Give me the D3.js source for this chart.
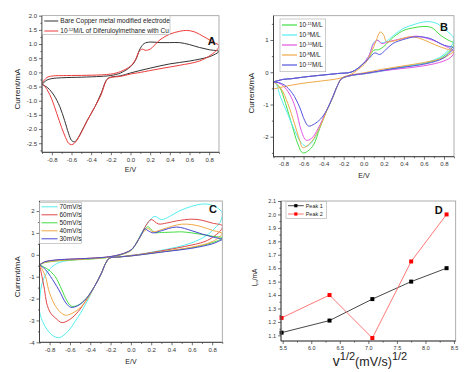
<!DOCTYPE html>
<html>
<head>
<meta charset="utf-8">
<script src="https://cdn.jsdelivr.net/npm/d3@7"></script>
<style>
body { margin: 0; background: #fff; }
svg { font-family: "Liberation Sans", Arial, sans-serif; }
.tick text { fill: #333; }
.tick line { stroke: #333; }
</style>
</head>
<body>
<svg id="chart" width="468" height="372"></svg>
<script>
// ---- tick values ----
var potTicks = [-0.8, -0.6, -0.4, -0.2, 0, 0.2, 0.4, 0.6, 0.8];
var aCurTicks = [2.0, 1.5, 1.0, 0.5, 0, -0.5, -1.0, -1.5, -2.0, -2.5];
var bCurTicks = [1, 0, -1, -2];
var cCurTicks = [2, 1, 0, -1, -2, -3, -4];
var rateTicks = [5.5, 6.0, 6.5, 7.0, 7.5, 8.0, 8.5];
var peakTicks = [1.1, 1.2, 1.3, 1.4, 1.5, 1.6, 1.7, 1.8, 1.9, 2.0, 2.1];

// ---- panel A: [E/V, I/mA] ----
var bareCu = [[-0.9,-0.42],[-0.85,-0.27],[-0.8,-0.22],[-0.7,-0.19],[-0.5,-0.17],[-0.3,-0.14],[-0.2,-0.11],[-0.1,-0.02],
  [0,0.2],[0.05,0.42],[0.1,0.85],[0.14,1.02],[0.2,1.07],[0.3,1.05],[0.4,1.05],[0.5,1.05],[0.6,0.98],[0.7,0.88],[0.8,0.8],[0.9,0.74],
  [0.88,0.68],[0.8,0.55],[0.6,0.4],[0.4,0.3],[0.2,0.15],[0,-0.02],[-0.1,-0.12],[-0.2,-0.17],[-0.24,-0.25],[-0.3,-0.75],
  [-0.36,-1.2],[-0.44,-1.7],[-0.5,-2.1],[-0.55,-2.4],[-0.57,-2.45],[-0.6,-2.4],[-0.63,-2.15],[-0.67,-1.7],[-0.72,-1.2],
  [-0.78,-0.8],[-0.84,-0.55],[-0.9,-0.42]];
var dfmCu = [[-0.9,-0.38],[-0.85,-0.18],[-0.8,-0.13],[-0.6,-0.11],[-0.4,-0.1],[-0.2,-0.06],[-0.1,0.03],[0,0.22],[0.05,0.45],
  [0.09,0.75],[0.12,0.82],[0.15,0.78],[0.2,0.82],[0.3,1.15],[0.4,1.35],[0.5,1.45],[0.57,1.48],[0.65,1.43],[0.75,1.25],[0.85,1.05],[0.9,0.95],
  [0.88,0.8],[0.82,0.62],[0.7,0.4],[0.5,0.25],[0.3,0.13],[0.1,0],[0,-0.06],[-0.1,-0.14],[-0.22,-0.2],[-0.25,-0.32],[-0.3,-0.8],
  [-0.36,-1.2],[-0.44,-1.7],[-0.52,-2.25],[-0.57,-2.5],[-0.6,-2.55],[-0.63,-2.5],[-0.66,-2.3],[-0.7,-1.95],[-0.75,-1.45],
  [-0.8,-0.95],[-0.85,-0.6],[-0.9,-0.38]];

// ---- panel B ----
var b11 = [[-0.9,-0.3],[-0.8,-0.22],[-0.72,-0.2],[-0.6,-0.15],[-0.42,-0.09],[-0.26,-0.04],[-0.12,0.01],[-0.02,0.22],[0.05,0.45],
  [0.1,0.68],[0.15,0.7],[0.2,0.8],[0.3,1.1],[0.4,1.3],[0.5,1.38],[0.6,1.42],[0.68,1.38],[0.76,1.16],[0.84,1.0],[0.9,0.9],
  [0.88,0.75],[0.8,0.5],[0.7,0.35],[0.5,0.22],[0.3,0.12],[0.1,0],[0,-0.05],[-0.12,-0.1],[-0.22,-0.2],[-0.26,-0.4],[-0.31,-0.8],
  [-0.37,-1.2],[-0.44,-1.75],[-0.5,-2.25],[-0.56,-2.45],[-0.61,-2.5],[-0.66,-2.2],[-0.71,-1.7],[-0.78,-0.97],[-0.84,-0.46],[-0.9,-0.3]];
var b9 = [[-0.9,-0.3],[-0.8,-0.22],[-0.72,-0.2],[-0.6,-0.15],[-0.42,-0.09],[-0.26,-0.04],[-0.12,0.01],[-0.02,0.22],[0.05,0.5],
  [0.1,0.92],[0.14,0.99],[0.17,0.91],[0.22,0.95],[0.3,1.15],[0.39,1.35],[0.5,1.48],[0.63,1.57],[0.73,1.51],[0.8,1.35],[0.86,1.2],[0.9,1.05],
  [0.88,0.85],[0.8,0.55],[0.7,0.38],[0.5,0.22],[0.3,0.1],[0.1,-0.01],[0,-0.05],[-0.12,-0.1],[-0.22,-0.2],[-0.26,-0.4],[-0.31,-0.78],
  [-0.37,-1.18],[-0.44,-1.7],[-0.5,-2.1],[-0.57,-2.3],[-0.62,-2.2],[-0.69,-1.8],[-0.76,-1.28],[-0.83,-0.77],[-0.875,-0.35],[-0.9,-0.3]];
var b10 = [[-0.9,-0.3],[-0.8,-0.22],[-0.72,-0.2],[-0.6,-0.15],[-0.42,-0.09],[-0.26,-0.04],[-0.12,0.01],[-0.02,0.22],[0.05,0.5],
  [0.1,0.9],[0.14,0.99],[0.18,0.89],[0.25,0.95],[0.39,1.05],[0.52,1.12],[0.6,1.08],[0.73,0.94],[0.82,0.8],[0.9,0.65],
  [0.88,0.5],[0.8,0.35],[0.6,0.2],[0.4,0.12],[0.2,0.05],[0,-0.05],[-0.12,-0.1],[-0.22,-0.2],[-0.26,-0.4],[-0.31,-0.78],
  [-0.37,-1.18],[-0.456,-1.75],[-0.52,-2.05],[-0.574,-2.11],[-0.624,-1.8],[-0.674,-1.18],[-0.724,-0.77],[-0.79,-0.46],[-0.85,-0.33],[-0.9,-0.3]];
var b8 = [[-0.9,-0.52],[-0.8,-0.45],[-0.72,-0.4],[-0.6,-0.34],[-0.42,-0.27],[-0.26,-0.2],[-0.15,-0.1],[-0.05,0.1],[0.02,0.3],
  [0.08,0.65],[0.12,0.95],[0.165,1.25],[0.2,1.15],[0.225,0.95],[0.3,0.97],[0.4,1.06],[0.46,1.1],[0.56,1.05],[0.66,0.92],[0.76,0.79],[0.9,0.63],
  [0.88,0.6],[0.8,0.45],[0.6,0.3],[0.4,0.2],[0.2,0.1],[0,-0.02],[-0.12,-0.08],[-0.22,-0.18],[-0.26,-0.4],[-0.31,-0.78],
  [-0.37,-1.2],[-0.44,-1.72],[-0.52,-2.15],[-0.607,-2.34],[-0.64,-2.1],[-0.69,-1.6],[-0.757,-0.97],[-0.825,-0.51],[-0.9,-0.3]];
var b12 = [[-0.9,-0.3],[-0.8,-0.22],[-0.72,-0.2],[-0.6,-0.15],[-0.42,-0.09],[-0.26,-0.04],[-0.12,0.01],[-0.02,0.22],[0.05,0.42],
  [0.11,0.6],[0.16,0.55],[0.22,0.7],[0.29,0.89],[0.4,1.02],[0.52,1.1],[0.66,1.05],[0.79,0.85],[0.9,0.75],
  [0.88,0.68],[0.79,0.43],[0.63,0.27],[0.29,0.11],[0,-0.04],[-0.12,-0.09],[-0.22,-0.2],[-0.26,-0.4],[-0.31,-0.77],
  [-0.37,-1.18],[-0.43,-1.45],[-0.49,-1.6],[-0.55,-1.67],[-0.59,-1.49],[-0.64,-1.08],[-0.71,-0.66],[-0.79,-0.4],[-0.85,-0.32],[-0.9,-0.3]];

// ---- panel C ----
var c70 = [[-0.905,-2.6],[-0.895,-1.9],[-0.88,-1.4],[-0.85,-1.0],[-0.8,-0.65],[-0.72,-0.38],[-0.6,-0.25],[-0.4,-0.17],[-0.2,-0.1],
  [-0.1,0],[0,0.2],[0.05,0.5],[0.1,0.95],[0.15,1.35],[0.2,1.65],[0.236,1.76],[0.3,1.61],[0.38,1.75],[0.47,1.99],[0.6,2.22],
  [0.7,2.32],[0.78,2.3],[0.85,2.15],[0.9,1.92],[0.895,1.7],[0.88,1.5],[0.8,1.1],[0.73,0.84],[0.6,0.55],[0.45,0.35],[0.27,0.18],
  [0.1,0.03],[0,-0.03],[-0.12,-0.1],[-0.21,-0.15],[-0.25,-0.4],[-0.29,-0.84],[-0.36,-1.46],[-0.44,-2.2],[-0.5,-2.7],[-0.55,-3.05],
  [-0.62,-3.5],[-0.7,-3.78],[-0.76,-3.72],[-0.82,-3.45],[-0.87,-3.05],[-0.9,-2.6]];
var c60 = [[-0.9,-0.46],[-0.85,-0.33],[-0.8,-0.28],[-0.7,-0.23],[-0.5,-0.18],[-0.3,-0.13],[-0.2,-0.08],[-0.1,0.02],[0,0.22],
  [0.05,0.5],[0.1,0.9],[0.15,1.35],[0.2,1.61],[0.27,1.41],[0.35,1.45],[0.45,1.55],[0.6,1.63],[0.7,1.58],[0.8,1.45],[0.9,1.33],
  [0.89,1.15],[0.82,0.85],[0.73,0.61],[0.53,0.38],[0.3,0.18],[0.1,0.03],[0,-0.03],[-0.12,-0.1],[-0.21,-0.15],[-0.25,-0.4],
  [-0.29,-0.84],[-0.36,-1.46],[-0.44,-2.07],[-0.52,-2.6],[-0.6,-2.95],[-0.68,-3.1],[-0.74,-2.9],[-0.79,-2.67],[-0.83,-2.2],
  [-0.85,-1.6],[-0.875,-1.0],[-0.9,-0.46]];
var c50 = [[-0.9,-0.46],[-0.85,-0.36],[-0.8,-0.32],[-0.7,-0.27],[-0.5,-0.22],[-0.3,-0.16],[-0.2,-0.1],[-0.1,0],[0,0.2],
  [0.05,0.5],[0.1,0.92],[0.14,1.18],[0.17,1.28],[0.2,1.15],[0.235,1.02],[0.3,1.02],[0.43,1.04],[0.5,1.05],[0.6,1.0],[0.7,0.93],
  [0.8,0.85],[0.9,0.78],[0.88,0.7],[0.8,0.55],[0.6,0.33],[0.33,0.15],[0,-0.05],[-0.12,-0.1],[-0.21,-0.15],[-0.25,-0.4],
  [-0.29,-0.84],[-0.36,-1.46],[-0.44,-2.0],[-0.52,-2.3],[-0.585,-2.35],[-0.63,-2.1],[-0.68,-1.6],[-0.745,-1.0],[-0.81,-0.69],
  [-0.86,-0.55],[-0.9,-0.46]];
var c40 = [[-0.9,-0.46],[-0.85,-0.35],[-0.8,-0.31],[-0.7,-0.26],[-0.5,-0.21],[-0.3,-0.15],[-0.2,-0.1],[-0.1,0],[0,0.2],
  [0.05,0.5],[0.1,0.9],[0.14,1.12],[0.17,1.2],[0.22,1.05],[0.3,1.15],[0.4,1.3],[0.5,1.4],[0.6,1.38],[0.7,1.28],[0.8,1.12],[0.9,0.97],
  [0.88,0.85],[0.8,0.6],[0.6,0.35],[0.33,0.16],[0,-0.05],[-0.12,-0.1],[-0.21,-0.15],[-0.25,-0.4],[-0.29,-0.84],[-0.36,-1.46],
  [-0.44,-2.1],[-0.52,-2.5],[-0.6,-2.72],[-0.645,-2.76],[-0.7,-2.6],[-0.76,-2.2],[-0.81,-1.6],[-0.84,-1.0],[-0.87,-0.7],[-0.9,-0.46]];
var c30 = [[-0.9,-0.46],[-0.85,-0.32],[-0.8,-0.27],[-0.7,-0.22],[-0.5,-0.18],[-0.3,-0.13],[-0.2,-0.08],[-0.1,0.02],[0,0.22],
  [0.05,0.5],[0.1,0.9],[0.137,1.18],[0.17,1.1],[0.22,1.0],[0.3,1.1],[0.45,1.27],[0.6,1.1],[0.7,0.95],[0.8,0.82],[0.9,0.7],
  [0.88,0.65],[0.8,0.5],[0.6,0.3],[0.33,0.14],[0,-0.05],[-0.12,-0.1],[-0.21,-0.15],[-0.25,-0.4],[-0.29,-0.84],[-0.36,-1.46],
  [-0.44,-2.0],[-0.52,-2.32],[-0.59,-2.4],[-0.64,-2.2],[-0.71,-1.6],[-0.79,-1.0],[-0.84,-0.68],[-0.9,-0.46]];

// ---- panel D ----
var sqrtRate = [5.48, 6.32, 7.07, 7.75, 8.37];
var peak1 = [1.12, 1.21, 1.37, 1.50, 1.60];
var peak2 = [1.23, 1.40, 1.08, 1.65, 2.00];

// ---- legends ----
var aNames = [['Bare Copper metal modified electrode'], ['10', '-12', 'M/L of Diferuloylmethane with Cu']];
var bNames = [['10', '-11', 'M/L'], ['10', '-9', 'M/L'], ['10', '-10', 'M/L'], ['10', '-8', 'M/L'], ['10', '-12', 'M/L']];
var cNames = [['70mV/s'], ['60mV/s'], ['50mV/s'], ['40mV/s'], ['30mV/s']];
var dNames = [['Peak 1'], ['Peak 2']];

var aColors = ['#333333', '#ee3b3b'];
var bColors = ['#44dd44', '#55eeee', '#e055e0', '#f0a848', '#5555dd'];
var cColors = ['#55eeee', '#e04848', '#44dd44', '#f0a848', '#4848d0'];
var dColors = ['#333333', '#ff6a6a'];
var dMarks = ['#000000', '#ff0000'];

var svg = d3.select('#chart');

function fmt(spec) {
    var f = d3.format(spec);
    return function (d) { return f(d).replace('\u2212', '-'); };
}

// minor ticks halfway between the labelled ones
function midpoints(ticks, lo, hi) {
    var s = ticks.slice().sort(d3.ascending);
    var step = s[1] - s[0];
    var out = [];
    for (var v = s[0] - step / 2; v <= hi + 1e-9; v += step) {
        if (v >= lo - 1e-9) out.push(v);
    }
    return out;
}

function makePanel(box, xDom, yDom) {
    var x = d3.scaleLinear().domain(xDom).range([box.x0, box.x1]);
    var y = d3.scaleLinear().domain(yDom).range([box.y1, box.y0]);
    var id = 'clip' + Math.round(box.x0) + Math.round(box.y0);
    svg.append('clipPath').attr('id', id)
        .append('rect')
            .attr('x', box.x0).attr('y', box.y0)
            .attr('width', box.x1 - box.x0).attr('height', box.y1 - box.y0);
    return { x: x, y: y, box: box, clip: 'url(#' + id + ')' };
}

function drawAxes(p, xTicks, yTicks, xFmt, yFmt, size) {
    var b = p.box;
    svg.append('rect')
        .attr('x', b.x0).attr('y', b.y0)
        .attr('width', b.x1 - b.x0).attr('height', b.y1 - b.y0)
        .attr('fill', 'none').attr('stroke', '#999').attr('stroke-width', 0.8);

    var gx = svg.append('g').attr('transform', 'translate(0,' + b.y1 + ')')
        .call(d3.axisBottom(p.x).tickValues(xTicks).tickSize(3).tickPadding(2).tickFormat(xFmt));
    svg.append('g').attr('transform', 'translate(0,' + b.y1 + ')')
        .call(d3.axisBottom(p.x).tickValues(midpoints(xTicks, p.x.domain()[0], p.x.domain()[1])).tickSize(1.6).tickFormat(''))
        .select('.domain').remove();
    var gy = svg.append('g').attr('transform', 'translate(' + b.x0 + ',0)')
        .call(d3.axisLeft(p.y).tickValues(yTicks).tickSize(3).tickPadding(2).tickFormat(yFmt));
    svg.append('g').attr('transform', 'translate(' + b.x0 + ',0)')
        .call(d3.axisLeft(p.y).tickValues(midpoints(yTicks, p.y.domain()[0], p.y.domain()[1])).tickSize(1.6).tickFormat(''))
        .select('.domain').remove();
    gx.select('.domain').remove();
    gy.select('.domain').remove();
    svg.selectAll('.tick line').attr('stroke-width', 0.7);
    gx.selectAll('text').attr('font-size', size);
    gy.selectAll('text').attr('font-size', size);

    svg.append('line')
        .attr('x1', b.x0).attr('x2', b.x1).attr('y1', b.y1).attr('y2', b.y1)
        .attr('stroke', '#333').attr('stroke-width', 0.9);
    svg.append('line')
        .attr('x1', b.x0).attr('x2', b.x0).attr('y1', b.y0).attr('y2', b.y1)
        .attr('stroke', '#333').attr('stroke-width', 0.9);
}

function drawLoops(p, series, colors) {
    var line = d3.line()
        .x(function (d) { return p.x(d[0]); })
        .y(function (d) { return p.y(d[1]); })
        .curve(d3.curveCatmullRom.alpha(0.5));
    var g = svg.append('g').attr('clip-path', p.clip);
    series.forEach(function (s, i) {
        g.append('path')
            .attr('d', line(s))
            .attr('fill', 'none')
            .attr('stroke', colors[i])
            .attr('stroke-width', 1)
            .attr('stroke-linejoin', 'round');
    });
}

// [base, superscript, rest]
function labelText(sel, parts, size) {
    sel.append('tspan').text(parts[0]);
    if (parts.length > 1) {
        sel.append('tspan').attr('font-size', size * 0.62).attr('dy', -size * 0.38).text(parts[1]);
        sel.append('tspan').attr('dy', size * 0.38).text(parts[2]);
    }
}

function drawLegend(o, names, colors, marks) {
    svg.append('rect')
        .attr('x', o.x).attr('y', o.y).attr('width', o.w).attr('height', o.h)
        .attr('fill', '#fff').attr('stroke', '#aaa').attr('stroke-width', 0.6);
    names.forEach(function (n, i) {
        var cy = o.y + o.top + o.rowH * i;
        svg.append('line')
            .attr('x1', o.x + 2).attr('x2', o.x + 2 + o.len)
            .attr('y1', cy).attr('y2', cy)
            .attr('stroke', colors[i]).attr('stroke-width', o.lw || 1);
        if (marks) {
            svg.append('rect')
                .attr('x', o.x + 2 + o.len / 2 - 1.6).attr('y', cy - 1.6)
                .attr('width', 3.2).attr('height', 3.2)
                .attr('fill', marks[i]);
        }
        var t = svg.append('text')
            .attr('x', o.x + 4 + o.len)
            .attr('y', cy + o.size * 0.35)
            .attr('font-size', o.size)
            .attr('fill', '#222');
        labelText(t, names[i], o.size);
    });
}

function axisTitle(x, y, text, size, rotate) {
    return svg.append('text')
        .attr('text-anchor', 'middle')
        .attr('font-size', size)
        .attr('fill', '#222')
        .attr('transform', 'translate(' + x + ',' + y + ')' + (rotate ? ' rotate(-90)' : ''))
        .text(text);
}

function panelTag(x, y, text) {
    svg.append('text')
        .attr('x', x).attr('y', y)
        .attr('text-anchor', 'middle')
        .attr('font-size', 11).attr('font-weight', 'bold')
        .attr('fill', '#111')
        .text(text);
}

// ---------- A ----------
var pA = makePanel({ x0: 42, x1: 219, y0: 15.7, y1: 152.3 }, [-0.9, 0.9], [-2.82, 2.0]);
drawLoops(pA, [bareCu, dfmCu], aColors);
drawAxes(pA, potTicks, aCurTicks, fmt('.1f'), fmt('.1f'), 6);
drawLegend({ x: 42.3, y: 15.7, w: 127.7, h: 18.6, top: 5.3, rowH: 10, len: 14, size: 6.5 }, aNames, aColors);
axisTitle(130.5, 172, 'E/V', 7);
axisTitle(19.7, 89, 'Current/mA', 8, true);
panelTag(211.7, 44.5, 'A');

// ---------- B ----------
var pB = makePanel({ x0: 273.5, x1: 454, y0: 15.7, y1: 156.7 }, [-0.9, 0.9], [-2.62, 1.754]);
drawLoops(pB, [b11, b9, b10, b8, b12], bColors);
drawAxes(pB, potTicks, bCurTicks, fmt('.1f'), fmt('d'), 6);
drawLegend({ x: 280, y: 19, w: 45.7, h: 52.7, top: 6, rowH: 10, len: 15, size: 6.5, lw: 1.2 }, bNames, bColors);
axisTitle(364, 177.5, 'E/V', 7);
axisTitle(253.5, 93, 'Current/mA', 8, true);
panelTag(444, 30.5, 'B');

// ---------- C ----------
var pC = makePanel({ x0: 39.5, x1: 222.3, y0: 201, y1: 342.3 }, [-0.9, 0.9], [-4, 2.46]);
drawLoops(pC, [c70, c60, c50, c40, c30], cColors);
drawAxes(pC, potTicks, cCurTicks, fmt('.1f'), fmt('d'), 6);
drawLegend({ x: 39.5, y: 202.5, w: 42, h: 41, top: 4.3, rowH: 8, len: 16, size: 6.5 }, cNames, cColors);
axisTitle(131, 363.5, 'E/V', 7);
axisTitle(20.3, 276.7, 'Current/mA', 8, true);
panelTag(213, 212.5, 'C');

// ---------- D ----------
var pD = makePanel({ x0: 281, x1: 455.7, y0: 201, y1: 341 }, [5.47, 8.53], [1.058, 2.1]);
var dLine = d3.line()
    .x(function (d, i) { return pD.x(sqrtRate[i]); })
    .y(function (d) { return pD.y(d); });
[peak1, peak2].forEach(function (s, k) {
    svg.append('path')
        .attr('d', dLine(s))
        .attr('fill', 'none')
        .attr('stroke', dColors[k])
        .attr('stroke-width', 0.9);
    svg.selectAll(null)
        .data(s)
        .enter().append('rect')
            .attr('x', function (d, i) { return pD.x(sqrtRate[i]) - 2; })
            .attr('y', function (d) { return pD.y(d) - 2; })
            .attr('width', 4).attr('height', 4)
            .attr('fill', dMarks[k]);
});
drawAxes(pD, rateTicks, peakTicks, fmt('.1f'), fmt('.1f'), 5.5);
drawLegend({ x: 286, y: 201.7, w: 40.7, h: 16.6, top: 4, rowH: 8.3, len: 15.7, size: 5.5, lw: 0.9 }, dNames, dColors, dMarks);
panelTag(438.7, 214, 'D');

var yl = svg.append('text')
    .attr('text-anchor', 'middle').attr('font-size', 6.5).attr('fill', '#222')
    .attr('transform', 'translate(256.5,277.7) rotate(-90)');
yl.append('tspan').text('I');
yl.append('tspan').attr('font-size', 4).attr('dy', 1.5).text('pa');
yl.append('tspan').attr('dy', -1.5).text('/mA');

var xl = svg.append('text')
    .attr('text-anchor', 'middle').attr('fill', '#222')
    .attr('transform', 'translate(370,366)');
xl.append('tspan').attr('font-size', 14).text('v');
xl.append('tspan').attr('font-size', 11).attr('dy', -6).text('1/2');
xl.append('tspan').attr('font-size', 12.5).attr('dy', 6).text('(mV/s)');
xl.append('tspan').attr('font-size', 11).attr('dy', -6).text('1/2');
</script>
</body>
</html>
